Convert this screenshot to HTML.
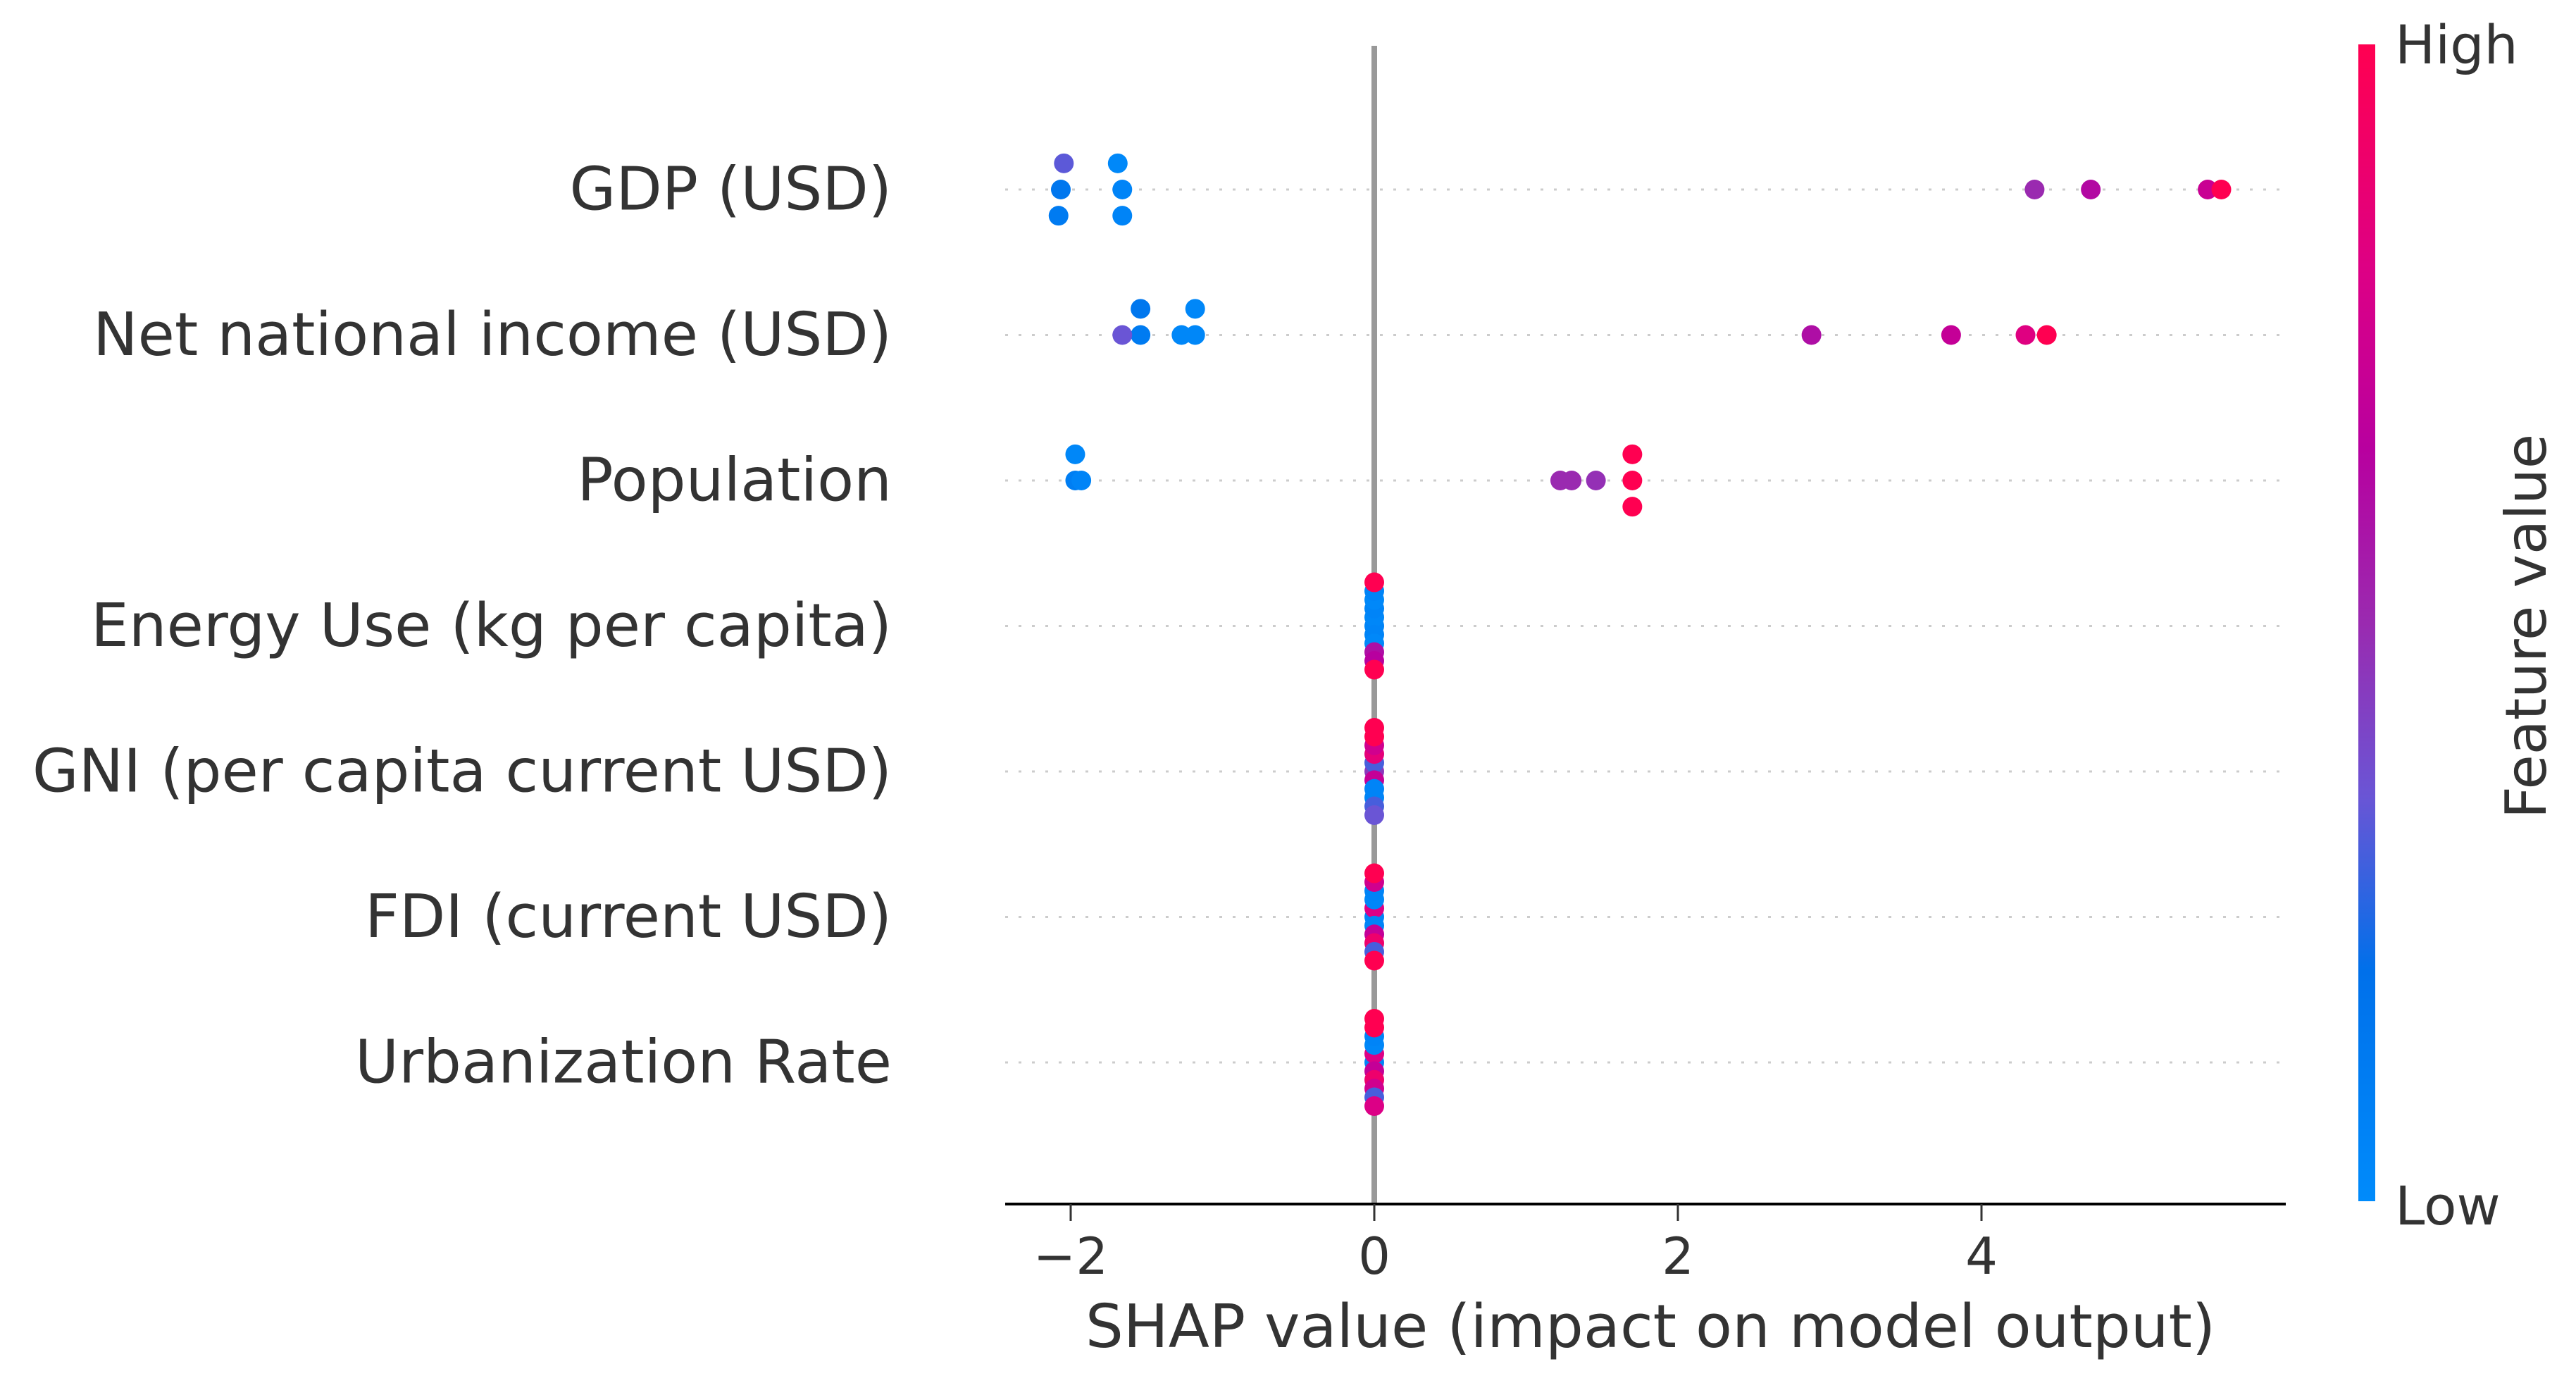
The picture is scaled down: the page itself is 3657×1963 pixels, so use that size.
<!DOCTYPE html>
<html><head><meta charset="utf-8"><style>
html,body{margin:0;padding:0;background:#fff;}
svg{display:block;font-family:"DejaVu Sans","Liberation Sans",sans-serif;}
</style></head><body>
<svg id="chart" width="3657" height="1963" viewBox="0 0 3657 1963" xmlns="http://www.w3.org/2000/svg">
<defs>
<linearGradient id="cbar" x1="0" y1="1" x2="0" y2="0">
<stop offset="0" stop-color="#008bfb"/><stop offset="0.2" stop-color="#0070ea"/>
<stop offset="0.35" stop-color="#6a55d5"/><stop offset="0.5" stop-color="#9a2ab0"/>
<stop offset="0.65" stop-color="#b8009f"/><stop offset="0.8" stop-color="#dc0086"/>
<stop offset="1" stop-color="#ff0051"/>
</linearGradient>
</defs>
<g id="grid"></g>
<line x1="1951" y1="65" x2="1951" y2="1709" stroke="#999" stroke-width="8"/>
<g id="dots"></g>
<g id="axis"></g>
<g id="labels"></g>
<text x="2343" y="1912" font-size="85" fill="#333" text-anchor="middle">SHAP value (impact on model output)</text>
<rect x="3348" y="63" width="24" height="1642" fill="url(#cbar)"/>
<text x="3400" y="90" font-size="76" fill="#333">High</text>
<text x="3400" y="1738" font-size="76" fill="#333">Low</text>
<text x="3592" y="889" font-size="80" fill="#333" text-anchor="middle" transform="rotate(-90 3592 889)" dominant-baseline="middle">Feature value</text>
</svg>
<script>
const features = ["GDP (USD)","Net national income (USD)","Population","Energy Use (kg per capita)","GNI (per capita current USD)","FDI (current USD)","Urbanization Rate"];
const shapGDP = [-2.065,-2.045,-2.08,-1.66,-1.69,-1.66,4.35,4.72,5.49,5.58];
const fvGDP   = [0.15,0.33,0.12,0.05,0.02,0.05,0.5,0.62,0.72,1];
const shapNNI = [-1.54,-1.54,-1.66,-1.27,-1.18,-1.18,2.88,3.80,4.29,4.43];
const fvNNI   = [0.12,0.15,0.35,0.03,0.03,0.03,0.6,0.7,0.82,1];
const shapPop = [-1.97,-1.97,-1.93,1.225,1.30,1.46,1.70,1.70,1.70];
const fvPop   = [0.1,0.03,0.05,0.5,0.5,0.48,1,1,1];
const shapEnergy = [0,0,0,0,0,0,0,0,0,0,0];
const fvEnergy   = [0.05,0.03,0.05,0.05,0.02,0.02,0.6,0.05,0.65,1,1];
const shapGNI = [0,0,0,0,0,0,0,0,0,0,0];
const fvGNI   = [0.45,0.3,0.7,0.85,0.05,0.75,0.05,1,0.3,1,0.35];
const shapFDI = [0,0,0,0,0,0,0,0,0,0,0];
const fvFDI   = [0.05,0.8,0.05,0.03,0.7,0.05,0.9,0.75,0.3,1,1];
const shapUrb = [0,0,0,0,0,0,0,0,0,0,0];
const fvUrb   = [0.05,0.8,0.7,0.03,0.9,0.05,0.75,1,0.3,1,0.8];
const xTicks = [-2,0,2,4];
const xTickLabels = ["\u22122","0","2","4"];

const NS="http://www.w3.org/2000/svg";
const X0=1951, XS=215.5, ROW0=269, ROWH=206.5;
function xScale(v){return X0+XS*v;}
function yScale(i){return ROW0+ROWH*i;}
const stops=[[0,[0,139,251]],[0.2,[0,112,234]],[0.35,[106,85,213]],[0.5,[154,42,176]],[0.65,[184,0,159]],[0.8,[220,0,134]],[1,[255,0,81]]];
function color(f){
  for(let k=1;k<stops.length;k++){ if(f<=stops[k][0]){const a=stops[k-1],b=stops[k];const t=(f-a[0])/(b[0]-a[0]);
    const c=a[1].map((v,j)=>Math.round(v+(b[1][j]-v)*t));return `rgb(${c[0]},${c[1]},${c[2]})`;}}
  return "rgb(255,0,81)";
}
function mk(tag,attrs,parent){const e=document.createElementNS(NS,tag);for(const k in attrs)e.setAttribute(k,attrs[k]);parent.appendChild(e);return e;}

const rows=[[shapGDP,fvGDP],[shapNNI,fvNNI],[shapPop,fvPop],[shapEnergy,fvEnergy],[shapGNI,fvGNI],[shapFDI,fvFDI],[shapUrb,fvUrb]];
const grid=document.getElementById('grid'), dots=document.getElementById('dots'), labels=document.getElementById('labels'), axis=document.getElementById('axis');

features.forEach((name,i)=>{
  const y=yScale(i);
  const gl=mk('line',{x1:1427,x2:3245,y1:y,y2:y,stroke:"#ccc","stroke-width":3,"stroke-dasharray":"4 15"},grid);
  
  
  const t=mk('text',{x:1266,y:y,"font-size":85,fill:"#333","text-anchor":"end","dominant-baseline":"central"},labels);
  t.textContent=name;
  
  
  const vals=rows[i][0], fvs=rows[i][1];
  const mn=Math.min(...vals), mx=Math.max(...vals);
  const q=vals.map(v=>Math.round(100*(v-mn)/(mx-mn+1e-8)));
  const ys=new Array(vals.length).fill(0);
  const cnt={};
  vals.forEach((v,j)=>{const l=cnt[q[j]]||0;ys[j]=Math.ceil(l/2)*((l%2)*2-1);cnt[q[j]]=l+1;});
  const mxy=Math.max(...ys.map(v=>v+1));
  const sc=0.9*0.4/mxy*ROWH;
  vals.forEach((v,j)=>{
    const c=mk('circle',{cx:xScale(v),cy:y-ys[j]*sc,r:14,fill:color(fvs[j])},dots);
    
    
  });
});
const ax=mk('line',{x1:1427,x2:3245,y1:1709,y2:1709,stroke:"#000","stroke-width":4},axis);


xTicks.forEach((v,k)=>{
  const tk=mk('line',{x1:xScale(v),x2:xScale(v),y1:1709,y2:1733,stroke:"#333","stroke-width":3},axis);
  
  
  const tl=mk('text',{x:xScale(v),y:1808,"font-size":72,fill:"#333","text-anchor":"middle"},axis);
  tl.textContent=xTickLabels[k];
  
  
});
</script>
</body></html>
